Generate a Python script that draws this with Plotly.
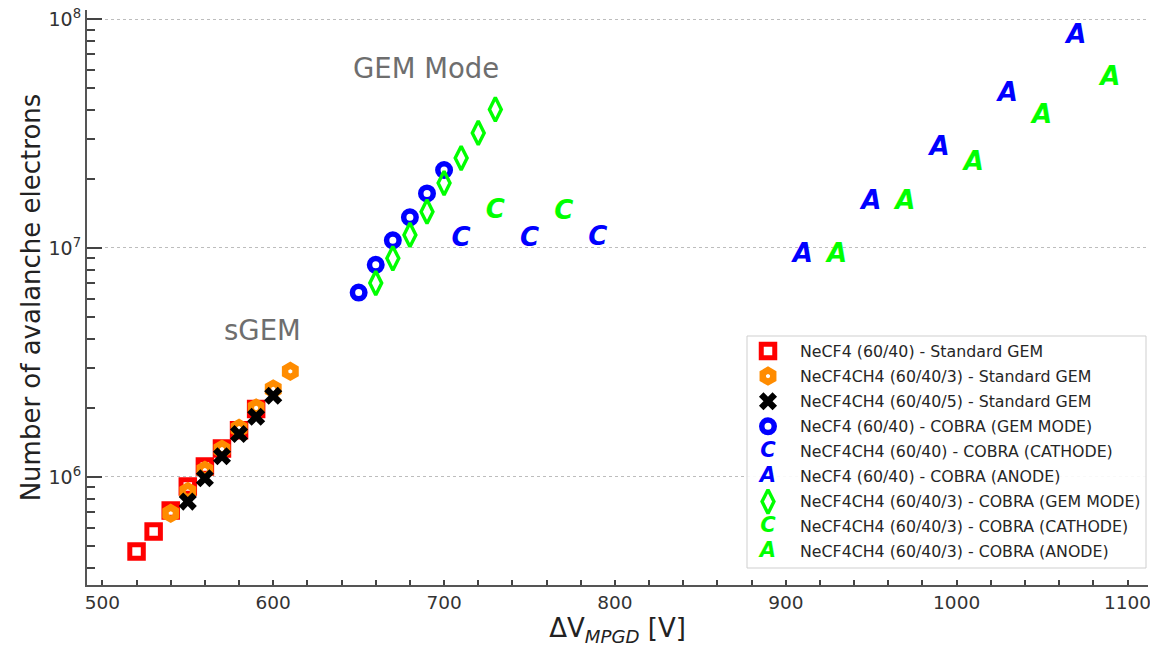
import plotly.graph_objects as go
import math

# ---------------- data ----------------
names = [
    "NeCF4 (60/40) - Standard GEM",
    "NeCF4CH4 (60/40/3) - Standard GEM",
    "NeCF4CH4 (60/40/5) - Standard GEM",
    "NeCF4 (60/40) - COBRA (GEM MODE)",
    "NeCF4CH4 (60/40) - COBRA (CATHODE)",
    "NeCF4 (60/40) - COBRA (ANODE)",
    "NeCF4CH4 (60/40/3) - COBRA (GEM MODE)",
    "NeCF4CH4 (60/40/3) - COBRA (CATHODE)",
    "NeCF4CH4 (60/40/3) - COBRA (ANODE)",
]

sq_x = [520, 530, 540, 550, 560, 570, 580, 590]
sq_y = [4.72e5, 5.77e5, 7.13e5, 9.08e5, 1.11e6, 1.33e6, 1.60e6, 1.98e6]
hex_x = [540, 550, 560, 570, 580, 590, 600, 610]
hex_y = [6.93e5, 8.63e5, 1.07e6, 1.32e6, 1.63e6, 2.00e6, 2.42e6, 2.89e6]
x5_x = [550, 560, 570, 580, 590, 600]
x5_y = [7.8e5, 9.86e5, 1.23e6, 1.54e6, 1.83e6, 2.26e6]
circ_x = [650, 660, 670, 680, 690, 700]
circ_y = [6.38e6, 8.44e6, 1.08e7, 1.36e7, 1.73e7, 2.19e7]
cath_b_x = [710, 750, 790]
cath_b_y = [1.09e7, 1.09e7, 1.10e7]
anode_b_x = [910, 950, 990, 1030, 1070]
anode_b_y = [9.3e6, 1.58e7, 2.72e7, 4.66e7, 8.38e7]
dia_x = [660, 670, 680, 690, 700, 710, 720, 730]
dia_y = [7.02e6, 9.01e6, 1.14e7, 1.44e7, 1.92e7, 2.47e7, 3.18e7, 4.03e7]
cath_g_x = [730, 770]
cath_g_y = [1.44e7, 1.43e7]
anode_g_x = [930, 970, 1010, 1050, 1090]
anode_g_y = [9.3e6, 1.58e7, 2.33e7, 3.74e7, 5.51e7]

x_range = [491, 1112]
y_range = [3.37e5, 1.095e8]
y_major = [1e6, 1e7, 1e8]
y_major_text = ["10<sup>6</sup>", "10<sup>7</sup>", "10<sup>8</sup>"]
x_title = "ΔV<sub><i>MPGD</i></sub> [V]"
y_title = "Number of avalanche electrons"

# ---------------- styles ----------------
RED, ORANGE, BLUE, GREEN = "#FF0000", "#FF8C00", "#0000FF", "#00FF00"
FONT = "DejaVu Sans"

styles = [
    dict(kind="marker", marker=dict(symbol="square-open", size=13.5, color=RED, line=dict(width=5, color=RED))),
    dict(kind="marker", marker=dict(symbol="hexagon-open", size=12, color=ORANGE, line=dict(width=6.5, color=ORANGE))),
    dict(kind="marker", marker=dict(symbol="x", size=16, color="black", line=dict(width=0))),
    dict(kind="marker", marker=dict(symbol="circle-open", size=12.5, color=BLUE, line=dict(width=5.5, color=BLUE))),
    dict(kind="text", text="C", color=BLUE),
    dict(kind="text", text="A", color=BLUE),
    dict(kind="marker", marker=dict(symbol="diamond-tall-open", size=17, color=GREEN, line=dict(width=3.4, color=GREEN))),
    dict(kind="text", text="C", color=GREEN),
    dict(kind="text", text="A", color=GREEN),
]
series = [
    (sq_x, sq_y), (hex_x, hex_y), (x5_x, x5_y), (circ_x, circ_y),
    (cath_b_x, cath_b_y), (anode_b_x, anode_b_y), (dia_x, dia_y),
    (cath_g_x, cath_g_y), (anode_g_x, anode_g_y),
]


def make_trace(st, xs, ys, name, xa="x", ya="y", tsize=26):
    if st["kind"] == "marker":
        return go.Scatter(x=xs, y=ys, mode="markers", marker=st["marker"], name=name,
                          showlegend=False, xaxis=xa, yaxis=ya, cliponaxis=True)
    return go.Scatter(x=xs, y=ys, mode="text", text=[st["text"]] * len(xs),
                      textposition="middle center",
                      textfont=dict(family=FONT, size=tsize, color=st["color"], weight="bold", style="italic"),
                      name=name, showlegend=False, xaxis=xa, yaxis=ya)


fig = go.Figure()
for st, (xs, ys), nm in zip(styles, series, names):
    fig.add_trace(make_trace(st, xs, ys, nm))

# ---------------- manual legend on an overlay (pixel) axis ----------------
L, R, T, B = 87, 2, 10, 64
W, H = 1150, 649
box_x0, box_x1, box_y0, box_y1 = 747, 1146, 336, 568
fig.add_trace(go.Scatter(
    x=[box_x0, box_x1, box_x1, box_x0, box_x0], y=[box_y0, box_y0, box_y1, box_y1, box_y0],
    mode="lines", fill="toself", fillcolor="rgba(255,255,255,0.9)",
    line=dict(color="#cfcfcf", width=1), showlegend=False, hoverinfo="skip",
    xaxis="x2", yaxis="y2"))
row0, dy, sym_x, lab_x = 351, 25.1, 768, 798
for i, (st, nm) in enumerate(zip(styles, names)):
    yy = row0 + i * dy
    fig.add_trace(make_trace(st, [sym_x], [yy], nm, "x2", "y2", tsize=21))
    fig.add_annotation(x=lab_x, y=yy, xref="x2", yref="y2", text=nm, showarrow=False,
                       xanchor="left", yanchor="middle",
                       font=dict(family=FONT, size=15.8, color="#262626"))

# ---------------- text annotations ----------------
fig.add_annotation(x=689.5, y=7.786, text="GEM Mode", showarrow=False,
                   font=dict(family=FONT, size=27.5, color="#6e6e6e"))
fig.add_annotation(x=593.5, y=6.642, text="sGEM", showarrow=False,
                   font=dict(family=FONT, size=27.5, color="#6e6e6e"))

# minor ticks
y_minor = []
for e in range(5, 8):
    for k in range(2, 10):
        v = k * 10 ** e
        if y_range[0] < v < y_range[1]:
            y_minor.append(v)

fig.update_layout(
    width=W, height=H,
    margin=dict(l=L, r=R, t=T, b=B),
    plot_bgcolor="white", paper_bgcolor="white",
    font=dict(family=FONT, color="#333333"),
    showlegend=False,
    xaxis=dict(
        range=x_range, showline=True, linewidth=2.2, linecolor="#555555", automargin=False,
        ticks="inside", ticklen=5, tickwidth=1.5, tickcolor="#444444",
        dtick=100, tick0=0, showgrid=False, zeroline=False, ticklabeloverflow="allow",
        tickfont=dict(family=FONT, size=18.5, color="#333333"),
        minor=dict(ticks="inside", ticklen=5, tickwidth=1.5, tickcolor="#444444", dtick=20, showgrid=False),
        title=dict(text=x_title, font=dict(family=FONT, size=26, color="#222222"), standoff=4),
    ),
    yaxis=dict(
        type="log", range=[math.log10(y_range[0]), math.log10(y_range[1])],
        showline=True, linewidth=2.2, linecolor="#555555", automargin=False,
        ticks="inside", ticklen=15, tickwidth=2, tickcolor="#444444",
        tickmode="array", tickvals=y_major, ticktext=y_major_text, ticklabeloverflow="allow",
        showgrid=True, gridcolor="#bdbdbd", gridwidth=1, griddash="dot", zeroline=False,
        tickfont=dict(family=FONT, size=19, color="#333333"),
        minor=dict(ticks="inside", ticklen=8, tickwidth=2, tickcolor="#444444",
                   tickmode="array", tickvals=y_minor, showgrid=False),
        title=dict(text=y_title, font=dict(family=FONT, size=26, color="#222222"), standoff=0),
    ),
    xaxis2=dict(overlaying="x", anchor="y2", range=[L, W - R], visible=False, fixedrange=True),
    yaxis2=dict(overlaying="y", anchor="x2", range=[H - B, T], visible=False, fixedrange=True),
)

fig.write_html("out.html")
